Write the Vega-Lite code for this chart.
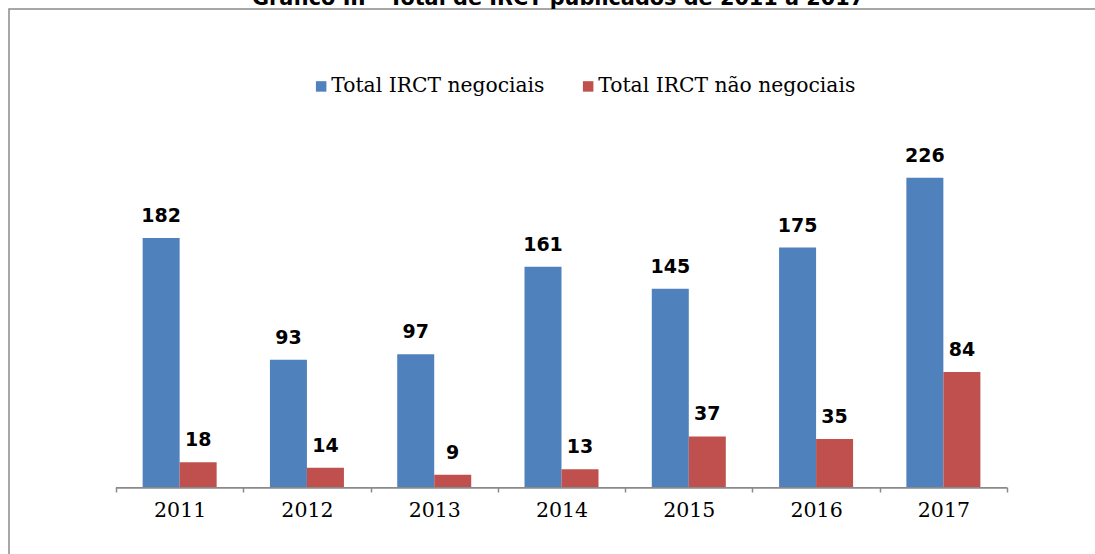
{
  "$schema": "https://vega.github.io/schema/vega-lite/v6.json",
  "autosize": "none",
  "width": 1100,
  "height": 560,
  "padding": {"left": 9, "top": 9, "right": 0, "bottom": 0},
  "background": "white",
  "title": {
    "text": "Gráfico III - Total de IRCT publicados de 2011 a 2017",
    "font": "DejaVu Sans",
    "fontWeight": "bold",
    "fontSize": 20.8,
    "color": "black",
    "anchor": "start",
    "dx": 243,
    "offset": -21,
    "baseline": "bottom"
  },
  "config": {
    "view": {"stroke": "#8a8a8a", "strokeWidth": 1.5},
    "axis": {"grid": false}
  },
  "data": {
    "values": [
      {"ano": "2011", "serie": "Total IRCT negociais", "valor": 182},
      {"ano": "2011", "serie": "Total IRCT não negociais", "valor": 18},
      {"ano": "2012", "serie": "Total IRCT negociais", "valor": 93},
      {"ano": "2012", "serie": "Total IRCT não negociais", "valor": 14},
      {"ano": "2013", "serie": "Total IRCT negociais", "valor": 97},
      {"ano": "2013", "serie": "Total IRCT não negociais", "valor": 9},
      {"ano": "2014", "serie": "Total IRCT negociais", "valor": 161},
      {"ano": "2014", "serie": "Total IRCT não negociais", "valor": 13},
      {"ano": "2015", "serie": "Total IRCT negociais", "valor": 145},
      {"ano": "2015", "serie": "Total IRCT não negociais", "valor": 37},
      {"ano": "2016", "serie": "Total IRCT negociais", "valor": 175},
      {"ano": "2016", "serie": "Total IRCT não negociais", "valor": 35},
      {"ano": "2017", "serie": "Total IRCT negociais", "valor": 226},
      {"ano": "2017", "serie": "Total IRCT não negociais", "valor": 84}
    ]
  },
  "encoding": {
    "x": {
      "field": "ano",
      "type": "nominal",
      "scale": {"paddingInner": 0, "paddingOuter": 0.8209, "align": 0.512},
      "axis": {
        "title": null,
        "offset": -82,
        "domain": false,
        "tickBand": "extent",
        "ticks": true,
        "tickSize": 5,
        "tickColor": "#8a8a8a",
        "tickWidth": 1.5,
        "labelAngle": 0,
        "labelFont": "DejaVu Serif",
        "labelFontSize": 20.5,
        "labelColor": "black",
        "labelPadding": 8
      }
    }
  },
  "layer": [
    {
      "mark": {"type": "bar", "color": "#8a8a8a"},
      "encoding": {
        "y": {"datum": 0, "type": "quantitative", "scale": {"domain": [-59.94, 349.4], "nice": false, "zero": false}, "axis": null},
        "y2": {"datum": -1.1}
      }
    },
    {
      "mark": {"type": "bar"},
      "encoding": {
        "xOffset": {"field": "serie", "type": "nominal", "scale": {"paddingInner": 0, "paddingOuter": 0.72}},
        "y": {"field": "valor", "type": "quantitative", "scale": {"domain": [-59.94, 349.4], "nice": false, "zero": false}, "axis": null},
        "y2": {"datum": 0},
        "color": {
          "field": "serie",
          "type": "nominal",
          "scale": {"domain": ["Total IRCT negociais", "Total IRCT não negociais"], "range": ["#4F81BD", "#C0504D"]},
          "legend": {
            "title": null,
            "orient": "none",
            "direction": "horizontal",
            "legendX": 302,
            "legendY": 67,
            "symbolType": "square",
            "symbolSize": 110,
            "symbolStrokeWidth": 0,
            "labelFont": "DejaVu Serif",
            "labelFontSize": 20.3,
            "labelColor": "black",
            "labelOffset": 0,
            "columnPadding": 33,
            "labelLimit": 400
          }
        }
      }
    },
    {
      "mark": {"type": "text", "font": "DejaVu Sans", "fontWeight": "bold", "fontSize": 19, "color": "black", "baseline": "alphabetic", "dy": -16},
      "encoding": {
        "xOffset": {"field": "serie", "type": "nominal", "scale": {"paddingInner": 0, "paddingOuter": 0.72}},
        "y": {"field": "valor", "type": "quantitative", "scale": {"domain": [-59.94, 349.4], "nice": false, "zero": false}, "axis": null},
        "text": {"field": "valor", "type": "quantitative"}
      }
    }
  ]
}
